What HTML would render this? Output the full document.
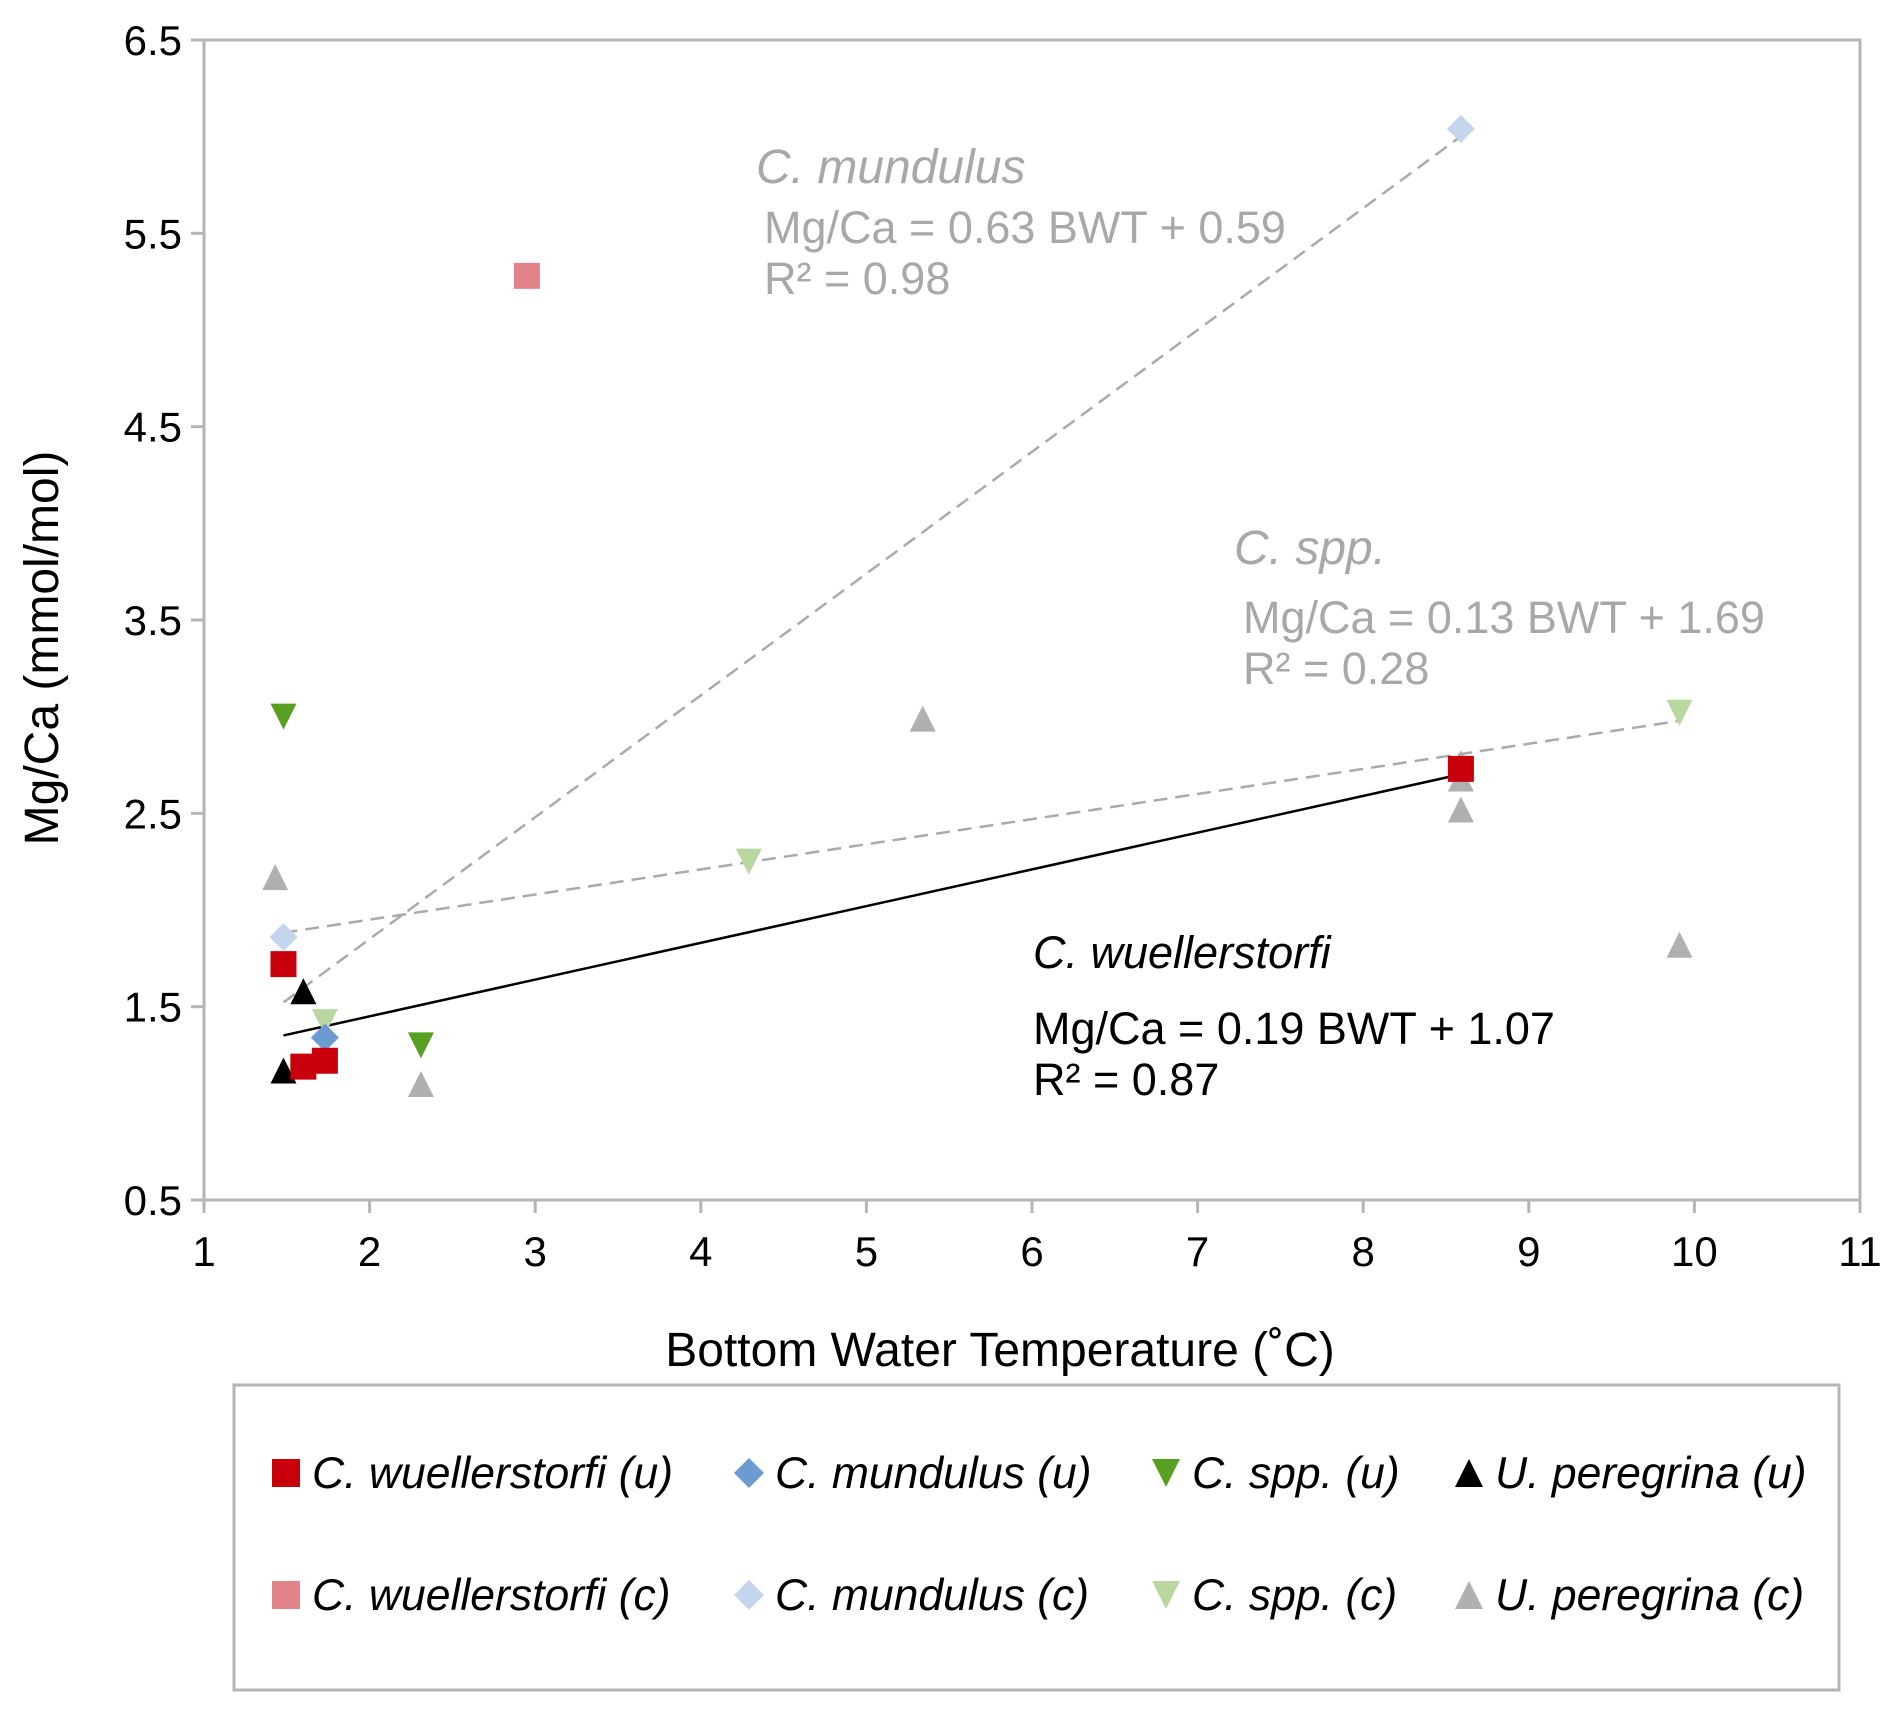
<!DOCTYPE html>
<html><head><meta charset="utf-8"><style>
html,body{margin:0;padding:0;background:#fff;}
svg{display:block;font-family:"Liberation Sans",Arial,sans-serif;}
</style></head><body>
<svg id="chart" width="1892" height="1713" viewBox="0 0 1892 1713">
<g id="axes"></g><g id="lines"></g><g id="points"></g><g id="labels"></g><g id="legend"></g>
</svg>
<script>
const xTicks=[1,2,3,4,5,6,7,8,9,10,11];
const yTicks=[0.5,1.5,2.5,3.5,4.5,5.5,6.5];
const wuellU_x=[1.48,1.6,1.73,8.59]; const wuellU_y=[1.72,1.19,1.22,2.73];
const wuellC_x=[2.95]; const wuellC_y=[5.28];
const mundU_x=[1.73]; const mundU_y=[1.34];
const mundC_x=[1.48,8.59]; const mundC_y=[1.86,6.04];
const sppU_x=[1.48,2.31]; const sppU_y=[3.0,1.3];
const sppC_x=[4.29,9.91,1.73]; const sppC_y=[2.25,3.02,1.42];
const perU_x=[1.6,1.48]; const perU_y=[1.58,1.17];
const perC_x=[1.43,2.31,5.34,8.59,8.59,8.59,9.91]; const perC_y=[2.17,1.10,2.99,2.52,2.68,2.76,1.82];
const trendMund=[0.63,0.59,1.48,8.59];
const trendSpp=[0.13,1.69,1.48,9.91];
const trendWuell=[0.19,1.07,1.48,8.59];

const NS="http://www.w3.org/2000/svg";
const L=204,R=1860,T=40,B=1200;
const X=v=>L+(v-1)/10*(R-L);
const Y=v=>B-(v-0.5)/6*(B-T);
function mk(tag,attrs,parent,text){const e=document.createElementNS(NS,tag);for(const k in attrs)e.setAttribute(k,attrs[k]);if(text!==undefined)e.textContent=text;document.getElementById(parent).appendChild(e);return e;}
const ax='#b5b5b5';
let e=mk('rect',{x:L,y:T,width:R-L,height:B-T,fill:'none',stroke:ax,'stroke-width':3},'axes');


xTicks.forEach(t=>{
 let l=mk('line',{x1:X(t),x2:X(t),y1:B,y2:B+13,stroke:ax,'stroke-width':3},'axes');
 
 
 let s=mk('text',{x:X(t),y:1266,'text-anchor':'middle','font-size':42,fill:'#000'},'axes',String(t));
 
 
});
yTicks.forEach(t=>{
 let l=mk('line',{x1:L-13,x2:L,y1:Y(t),y2:Y(t),stroke:ax,'stroke-width':3},'axes');
 
 
 let s=mk('text',{x:182,y:Y(t)+15,'text-anchor':'end','font-size':42,fill:'#000'},'axes',t.toFixed(1));
 
 
});
e=mk('text',{x:1000,y:1366,'text-anchor':'middle','font-size':48},'axes','Bottom Water Temperature (˚C)');


e=mk('text',{x:0,y:0,'text-anchor':'middle','font-size':48,transform:'translate(58,648) rotate(-90)'},'axes','Mg/Ca (mmol/mol)');



function trend(p,color,dash,name){
 const a=mk('line',{x1:X(p[2]),y1:Y(p[0]*p[2]+p[1]),x2:X(p[3]),y2:Y(p[0]*p[3]+p[1]),stroke:color,'stroke-width':2.5,'stroke-dasharray':dash?'14,8':'none'},'lines');
 
 
}
trend(trendMund,'#aaaaaa',true,'trendline-mundulus');
trend(trendSpp,'#aaaaaa',true,'trendline-spp');
trend(trendWuell,'#000',false,'trendline-wuellerstorfi');

function shape(type,cx,cy,color,parent,s){
 s=s||13;let d;
 if(type==='sq')d=`M${cx-s},${cy-s}h${2*s}v${2*s}h${-2*s}z`;
 else if(type==='di')d=`M${cx},${cy-s-1}L${cx+s+1},${cy}L${cx},${cy+s+1}L${cx-s-1},${cy}z`;
 else if(type==='up')d=`M${cx},${cy-s}L${cx+s},${cy+s}L${cx-s},${cy+s}z`;
 else d=`M${cx-s},${cy-s}L${cx+s},${cy-s}L${cx},${cy+s}z`;
 return mk('path',{d:d,fill:color,'stroke-linejoin':'round'},parent);
}
const series=[
 ['up',perC_x,perC_y,'#b0b0b0','point-peregrina-c'],
 ['dn',sppC_x,sppC_y,'#b9d7a1','point-spp-c'],
 ['di',mundC_x,mundC_y,'#c3d6eb','point-mundulus-c'],
 ['sq',wuellC_x,wuellC_y,'#e2838a','point-wuellerstorfi-c'],
 ['dn',sppU_x,sppU_y,'#58a022','point-spp-u'],
 ['di',mundU_x,mundU_y,'#6b9bd0','point-mundulus-u'],
 ['up',perU_x,perU_y,'#000000','point-peregrina-u'],
 ['sq',wuellU_x,wuellU_y,'#c8000b','point-wuellerstorfi-u'],
];
series.forEach(s=>{
 s[1].forEach((xv,i)=>{
  const p=shape(s[0],X(xv),Y(s[2][i]),s[3],'points');
  
  
 });
});

function lab(x,y,txt,color,italic,name,fs){
 const t=mk('text',{x:x,y:y,'font-size':fs||45,fill:color,'font-style':italic?'italic':'normal'},'labels',txt);
 
 
}
lab(756,183,'C. mundulus','#a8a8a8',true,'label-mundulus',48);
lab(764,243,'Mg/Ca = 0.63 BWT + 0.59','#a8a8a8',false,'equation-mundulus');
lab(764,294,'R² = 0.98','#a8a8a8',false,'r2-mundulus');
lab(1234,564,'C. spp.','#a8a8a8',true,'label-spp',48);
lab(1243,633,'Mg/Ca = 0.13 BWT + 1.69','#a8a8a8',false,'equation-spp');
lab(1243,684,'R² = 0.28','#a8a8a8',false,'r2-spp');
lab(1033,968,'C. wuellerstorfi','#000',true,'label-wuellerstorfi');
lab(1033,1044,'Mg/Ca = 0.19 BWT + 1.07','#000',false,'equation-wuellerstorfi');
lab(1033,1095,'R² = 0.87','#000',false,'r2-wuellerstorfi');

e=mk('rect',{x:234,y:1385,width:1605,height:305,fill:'none',stroke:'#b5b5b5','stroke-width':3},'legend');


const legNames=['C. wuellerstorfi (u)','C. mundulus (u)','C. spp. (u)','U. peregrina (u)','C. wuellerstorfi (c)','C. mundulus (c)','C. spp. (c)','U. peregrina (c)'];
const legShapes=['sq','di','dn','up','sq','di','dn','up'];
const legColors=['#c8000b','#6b9bd0','#58a022','#000000','#e2838a','#c3d6eb','#b9d7a1','#b0b0b0'];
const colX=[286,749,1166,1469];
legNames.forEach((n,i)=>{
 const c=i%4,r=Math.floor(i/4);
 const by=r?1610:1488;
 const m=shape(legShapes[i],colX[c],by-15,legColors[i],'legend',14);
 
 
 const t=mk('text',{x:colX[c]+26,y:by,'font-size':44.5,'font-style':'italic'},'legend',n);
 
 
});
</script>
</body></html>
